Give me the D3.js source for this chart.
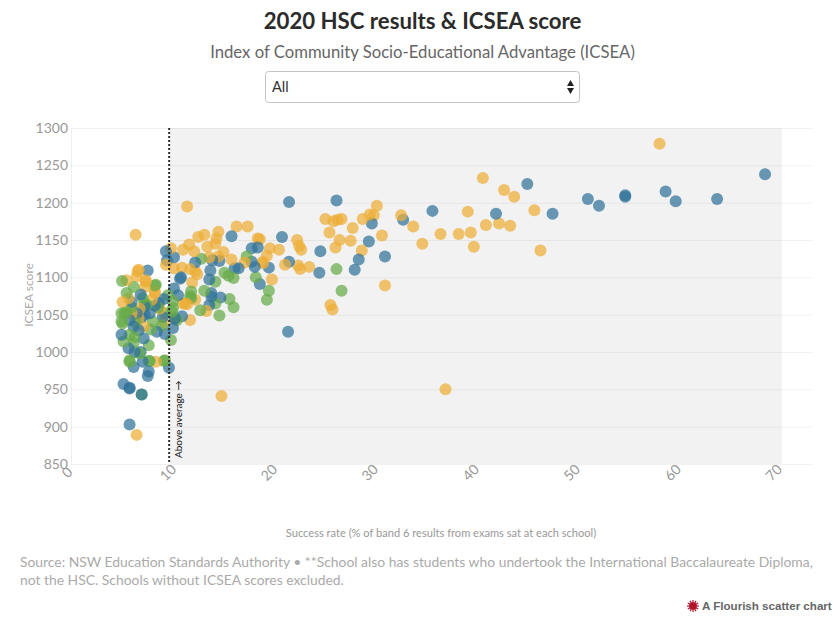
<!DOCTYPE html>
<html><head><meta charset="utf-8">
<script src="https://cdn.jsdelivr.net/npm/d3@7"></script>
<style>
html,body{margin:0;padding:0;background:#fff;}
svg{display:block;}
text{font-family:"Lato","Noto Sans",sans-serif;}
</style></head><body>
<div id="chart"></div>
<script>
const titleText = "2020 HSC results & ICSEA score";
const subtitleText = "Index of Community Socio-Educational Advantage (ICSEA)";
const selectedOption = "All";
const xLabel = "Success rate (% of band 6 results from exams sat at each school)";
const yLabel = "ICSEA score";
const sourceLines = ["Source: NSW Education Standards Authority • **School also has students who undertook the International Baccalaureate Diploma,",
  "not the HSC. Schools without ICSEA scores excluded."];
const xTicks = [0,10,20,30,40,50,60,70];
const yTicks = [850,900,950,1000,1050,1100,1150,1200,1250,1300];
const averageLine = 10;
const bandEnd = 70.6;

const yellowSchools = [[58.5,1279],[41,1233],[43.1,1217],[44.1,1208],[39.5,1188],[46.1,1190],[41.3,1170],[42.6,1172],[43.7,1169],[36.8,1158],[38.6,1158],[39.8,1160],[40.1,1141],[46.7,1136],
[30.5,1196],[25.4,1178],[26.2,1175],[26.6,1177],[27,1178],[29.1,1178],[29.8,1184],[30.2,1183],[32.9,1183],[34.1,1168],[28.1,1166],[25.8,1160],[31,1156],[35,1145],[26.8,1150],[27.9,1149],[26.4,1140],[29,1136],[22.6,1150],[22.8,1142],[23,1137],[20.8,1137],[19.9,1139],[18.9,1151],[19.6,1129],[19.2,1121],[21.4,1117],[22.7,1116],[22.9,1111],[23.8,1114],[20.1,1097],[31.3,1089],[25.9,1063],[26.1,1057],[37.3,950],[15.1,941],
[11.7,1195],[16.6,1168],[17.7,1168],[14.8,1161],[13.4,1157],[12.8,1154],[14.6,1152],[18.7,1152],[14.5,1145],[11.9,1144],[13.7,1141],[11.3,1137],[12.4,1135],[10.1,1139],[9.6,1117],[13.9,1127],[14.8,1128],[15.3,1134],[16.1,1124],[11.2,1113],[10.4,1112],[12,1111],[12.5,1108],[12.7,1104],[17.4,1120],[19.2,1119],[12.2,1093],[13.6,1055],[12,1043],[12.5,1070],[11.5,1065],[11.7,1064],[11.3,1065],
[6.6,1157],[5.7,1096],[6.8,1108],[6.9,1110],[6.7,1101],[7.6,1096],[7.5,1087],[7.6,1094],[8.5,1081],[8.5,1079],[5.3,1067],[6.2,1052],[6.9,1045],[7.4,1034],[8.6,987],[6.7,889],[8.2,1070],[9,1058],[7,1058],[9.4,1040],[5.9,1072]];

const greenSchools = [[26.5,1111],[27,1082],[19.8,1082],[19.6,1070],[17.6,1128],[13.1,1125],[15.4,1106],[15.8,1102],[16.3,1099],[14.5,1094],[18.5,1100],[13.4,1082],[12.1,1081],[15.9,1071],[16.3,1060],[14.9,1049],[13,1056],[14.5,1065],[12,1075],[12.1,1072],[10.3,1059],[10.3,1068],[10.2,1054],[9.8,1076],[10.5,1045],[10.7,1043],[10.1,1016],
[5.25,1095],[6.4,1087],[8.5,1089],[8.6,1090],[5.7,1079],[5.5,1052],[5.2,1052],[5.7,1054],[5.3,1038],[7.5,1065],[7.7,1063],[9.5,1052],[8.3,1041],[5.2,1041],[6,1023],[6.5,1020],[7.9,1009],[5.4,1014],[6.4,1012],[7,998],[6,989],[6,987],[7.9,988],[8,988],[9.4,988],[9.5,989],[7.2,943],[8.8,1060],[9.2,1035],[6.6,1040],[7.3,1072],[8.1,1030],[6.2,1060]];

const blueSchools = [[68.95,1238],[45.4,1225],[51.4,1205],[52.5,1196],[55.1,1210],[55.1,1208],[59.1,1215],[60.1,1202],[64.2,1205],[42.3,1185],[47.9,1185],[21.8,1201],[26.5,1203],[36,1189],[30,1172],[33.1,1177],[21.1,1154],[29.7,1148],[24.9,1135],[31.3,1128],[28.7,1124],[21.8,1121],[19.8,1113],[24.8,1106],[28.3,1110],[18.9,1091],[21.7,1027],
[16.1,1155],[18.1,1139],[18.7,1140],[9.6,1135],[9.7,1123],[10.4,1127],[14.9,1122],[12.5,1120],[14.2,1123],[14,1109],[16.4,1112],[16.8,1112],[18.1,1121],[18.4,1114],[11.1,1100],[11,1098],[13.9,1097],[14.1,1079],[15,1073],[13.9,1063],[11.2,1048],[10.4,1085],[9.4,1071],[10.8,1076],[8.5,1062],[14.1,1074],
[7.8,1109],[7.1,1077],[6.2,1067],[7.5,1061],[7.5,1050],[6.7,1052],[8,1052],[9.3,1047],[7.2,1047],[6,1043],[10.5,1045],[6.4,1034],[6.9,1029],[5.2,1023],[7.4,1018],[8.7,1027],[9.5,1024],[10.3,1032],[5.9,1005],[6.5,1000],[7.1,1000],[7.3,987],[6.4,980],[7.9,974],[7.8,968],[9.9,979],[5.4,957],[6,951],[6,952],[7.2,943],[6,903],[8.9,1066]];

const width = 837, height = 625;
const m = {left:69, right:812, top:128, bottom:464};
const svg = d3.select("#chart").append("svg").attr("width",width).attr("height",height);
const x = d3.scaleLinear().domain([0,73.6]).range([m.left,m.right]);
const y = d3.scaleLinear().domain([850,1300]).range([m.bottom,m.top]);

svg.append("text").attr("x",422.5).attr("y",29).attr("text-anchor","middle")
  .attr("font-size",22.2).attr("font-weight",700).attr("fill","#2b2b2b").text(titleText);
svg.append("text").attr("x",422.5).attr("y",58).attr("text-anchor","middle")
  .attr("font-size",16.7).attr("fill","#666").text(subtitleText);

const dd = svg.append("g");
dd.append("rect").attr("x",265.5).attr("y",71.5).attr("width",314).attr("height",31).attr("rx",3)
  .attr("fill","#fff").attr("stroke","#c4c4c4");
dd.append("text").attr("x",272).attr("y",92).attr("font-size",14.5).attr("fill","#333").text(selectedOption);
dd.append("path").attr("d","M567 86l3.5-6 3.5 6zM567 88l3.5 6 3.5-6z").attr("fill","#222");

svg.append("rect").attr("x",x(averageLine)).attr("y",m.top)
  .attr("width",x(bandEnd)-x(averageLine)).attr("height",m.bottom-m.top).attr("fill","#f2f2f3");

const yAxis = svg.append("g").attr("transform",`translate(${m.left+2},0)`)
  .call(d3.axisLeft(y).tickValues(yTicks).tickFormat(d3.format("d")).tickSize(0).tickPadding(3));
yAxis.select(".domain").attr("stroke","#eceef2");
yAxis.selectAll(".tick text").attr("font-size",14).attr("fill","#999").style("font-family",'"Lato",sans-serif');
yAxis.selectAll(".tick").append("line").attr("x1",0).attr("x2",m.right-m.left-2)
  .attr("stroke","#000").attr("stroke-opacity",0.05);

const xAxis = svg.append("g").attr("transform",`translate(0,${m.bottom})`)
  .call(d3.axisBottom(x).tickValues(xTicks).tickSize(0).tickPadding(0));
xAxis.select(".domain").remove();
xAxis.selectAll(".tick text").attr("font-size",14).attr("fill","#999")
  .attr("text-anchor","middle").attr("dy",0)
  .attr("transform","translate(1,12) rotate(-45)").style("font-family",'"Lato",sans-serif');

svg.append("text").attr("transform","translate(33,295) rotate(-90)").attr("text-anchor","middle")
  .attr("font-size",12).attr("fill","#aaa").text(yLabel);
svg.append("text").attr("x",441).attr("y",537).attr("text-anchor","middle")
  .attr("font-size",11.1).attr("fill","#999").text(xLabel);

const allSchools = [
  ...yellowSchools.map(d=>[d[0],d[1],"#edad36"]),
  ...greenSchools.map(d=>[d[0],d[1],"#66ab48"]),
  ...blueSchools.map(d=>[d[0],d[1],"#2f7299"])
].sort((a,b)=>d3.descending(a[0],b[0]));
svg.append("g").selectAll("circle").data(allSchools).join("circle")
  .attr("cx",d=>x(d[0])).attr("cy",d=>y(d[1])).attr("r",6)
  .attr("fill",d=>d[2]).attr("fill-opacity",0.72);

svg.append("line").attr("x1",x(averageLine)-0.8).attr("x2",x(averageLine)-0.8)
  .attr("y1",m.top).attr("y2",m.bottom-2)
  .attr("stroke","#333").attr("stroke-width",2).attr("stroke-dasharray","2,2");
svg.append("text").attr("transform",`translate(${x(averageLine)+12},458) rotate(-90)`)
  .attr("font-size",10).attr("fill","#111").text("Above average →");

svg.append("g").selectAll("text").data(sourceLines).join("text")
  .attr("x",20).attr("y",(d,i)=>567+i*18).attr("font-size",13.88).attr("fill","#aaa").text(d=>d);

const logo = svg.append("g").attr("transform","translate(693,606)");
logo.selectAll("line").data(d3.range(12)).join("line")
  .attr("x2",d=>6*Math.cos(d*Math.PI/6)).attr("y2",d=>6*Math.sin(d*Math.PI/6))
  .attr("stroke","#b3142a").attr("stroke-width",1.2);
logo.append("circle").attr("r",3.8).attr("fill","#b3142a");
svg.append("text").attr("x",702).attr("y",610).attr("font-size",11.6).attr("font-weight",700)
  .attr("fill","#666").style("font-family",'"Liberation Sans",Arial,sans-serif').text("A Flourish scatter chart");
</script>
</body></html>
